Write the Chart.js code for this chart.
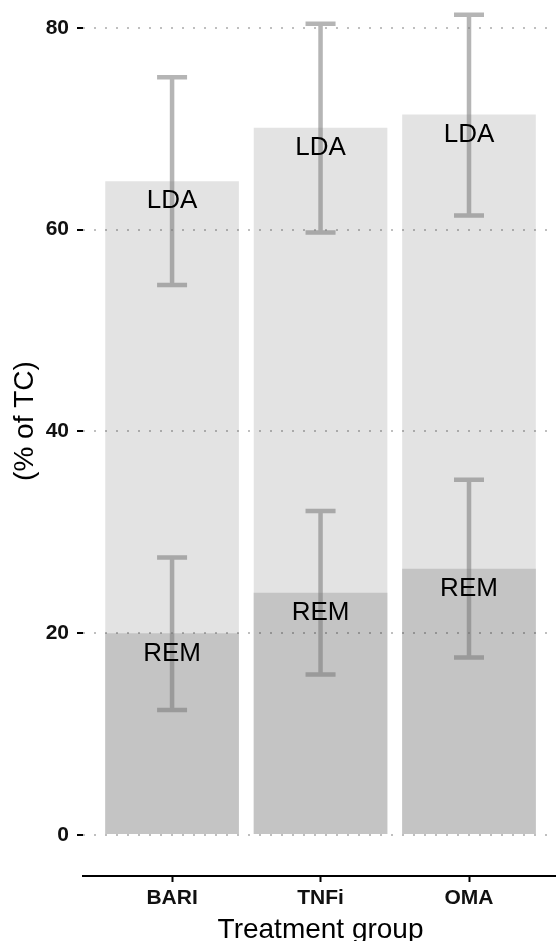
<!DOCTYPE html>
<html>
<head>
<meta charset="utf-8">
<script src="https://cdn.jsdelivr.net/npm/chart.js@4/dist/chart.umd.min.js"></script>
<style>
  html, body { margin: 0; padding: 0; background: #fff; }
  canvas { display: block; }
</style>
</head>
<body>
<canvas id="chart" width="556" height="941"></canvas>
<script>
// Treatment groups on the x axis
const categories = ['BARI', 'TNFi', 'OMA'];

// Low disease activity (includes remission), % of TC, with interval bounds
const ldaValues = [64.8, 70.1, 71.4];
const ldaLower  = [54.5, 59.7, 61.4];
const ldaUpper  = [75.1, 80.4, 81.3];

// Remission, % of TC, with interval bounds
const remValues = [20.0, 24.0, 26.4];
const remLower  = [12.4, 15.9, 17.6];
const remUpper  = [27.5, 32.1, 35.2];

// Y axis tick values
const yTicks = [0, 20, 40, 60, 80];

const FONT = '"Liberation Sans", Arial, Helvetica, sans-serif';

const toPoints = vals => vals.map((v, i) => ({ x: i + 1, y: v }));

// Interval whiskers, in-bar labels and axis titles
const overlayPlugin = {
  id: 'overlay',
  afterDraw(chart) {
    const { ctx, scales: { x, y } } = chart;
    const series = [
      { vals: ldaValues, lo: ldaLower, hi: ldaUpper, label: 'LDA' },
      { vals: remValues, lo: remLower, hi: remUpper, label: 'REM' }
    ];
    ctx.save();
    // whiskers
    ctx.strokeStyle = 'rgba(120,120,120,0.55)';
    ctx.lineWidth = 4.5;
    ctx.lineCap = 'butt';
    series.forEach(s => {
      categories.forEach((c, i) => {
        const cx = x.getPixelForValue(i + 1);
        const yl = y.getPixelForValue(s.lo[i]);
        const yh = y.getPixelForValue(s.hi[i]);
        ctx.beginPath();
        ctx.moveTo(cx, yh); ctx.lineTo(cx, yl);
        ctx.moveTo(cx - 15, yh); ctx.lineTo(cx + 15, yh);
        ctx.moveTo(cx - 15, yl); ctx.lineTo(cx + 15, yl);
        ctx.stroke();
      });
    });
    // labels, placed just under each bar top
    ctx.fillStyle = '#000';
    ctx.font = '26px ' + FONT;
    ctx.textAlign = 'center';
    ctx.textBaseline = 'middle';
    series.forEach(s => {
      categories.forEach((c, i) => {
        ctx.fillText(s.label, x.getPixelForValue(i + 1), y.getPixelForValue(s.vals[i] - 2));
      });
    });
    // axis titles
    ctx.font = '28px ' + FONT;
    ctx.textBaseline = 'alphabetic';
    ctx.fillText('Treatment group', (x.getPixelForValue(0.4) + x.getPixelForValue(3.6)) / 2, 938);
    ctx.save();
    ctx.translate(25, 421);
    ctx.rotate(-Math.PI / 2);
    ctx.textBaseline = 'middle';
    ctx.fillText('(% of TC)', 0, 0);
    ctx.restore();
    ctx.restore();
  }
};

new Chart(document.getElementById('chart'), {
  type: 'bar',
  data: {
    datasets: [
      {
        label: 'REM',
        data: toPoints(remValues),
        backgroundColor: '#c4c4c4',
        order: 0
      },
      {
        label: 'LDA',
        data: toPoints(ldaValues),
        backgroundColor: '#e3e3e3',
        order: 1
      }
    ]
  },
  options: {
    responsive: false,
    animation: false,
    devicePixelRatio: 1,
    layout: { padding: 0 },
    grouped: false,
    barPercentage: 0.9,
    categoryPercentage: 1.0,
    plugins: { legend: { display: false }, tooltip: { enabled: false } },
    scales: {
      x: {
        type: 'linear',
        offset: false,
        min: 0.4,
        max: 3.586,
        afterBuildTicks: s => { s.ticks = categories.map((c, i) => ({ value: i + 1 })); },
        afterFit: s => {
          s.height = 65;
          s.paddingLeft = 0; s.paddingRight = 0;
        },
        ticks: {
          callback: v => categories[v - 1] || '',
          color: '#111',
          font: { family: FONT, size: 21, weight: 'bold' },
          padding: 4,
          maxRotation: 0,
          autoSkip: false
        },
        grid: {
          display: true,
          offset: false,
          drawOnChartArea: false,
          drawTicks: true,
          tickLength: 6,
          tickWidth: 2,
          tickColor: '#000'
        },
        border: { display: true, color: '#000', width: 2 }
      },
      y: {
        type: 'linear',
        min: -4.06,
        max: 82.75,
        afterBuildTicks: s => { s.ticks = yTicks.map(v => ({ value: v })); },
        afterFit: s => {
          s.width = 83;
          s.paddingTop = 0; s.paddingBottom = 0;
        },
        ticks: {
          color: '#111',
          font: { family: FONT, size: 21, weight: 'bold' },
          padding: 8
        },
        grid: {
          z: 1,
          color: 'rgba(0,0,0,0.25)',
          lineWidth: 2,
          drawTicks: true,
          tickLength: 6,
          tickWidth: 2,
          tickColor: '#000',
          tickBorderDash: []
        },
        border: { display: false, dash: [2, 9] }
      }
    }
  },
  plugins: [overlayPlugin]
});
</script>
</body>
</html>
